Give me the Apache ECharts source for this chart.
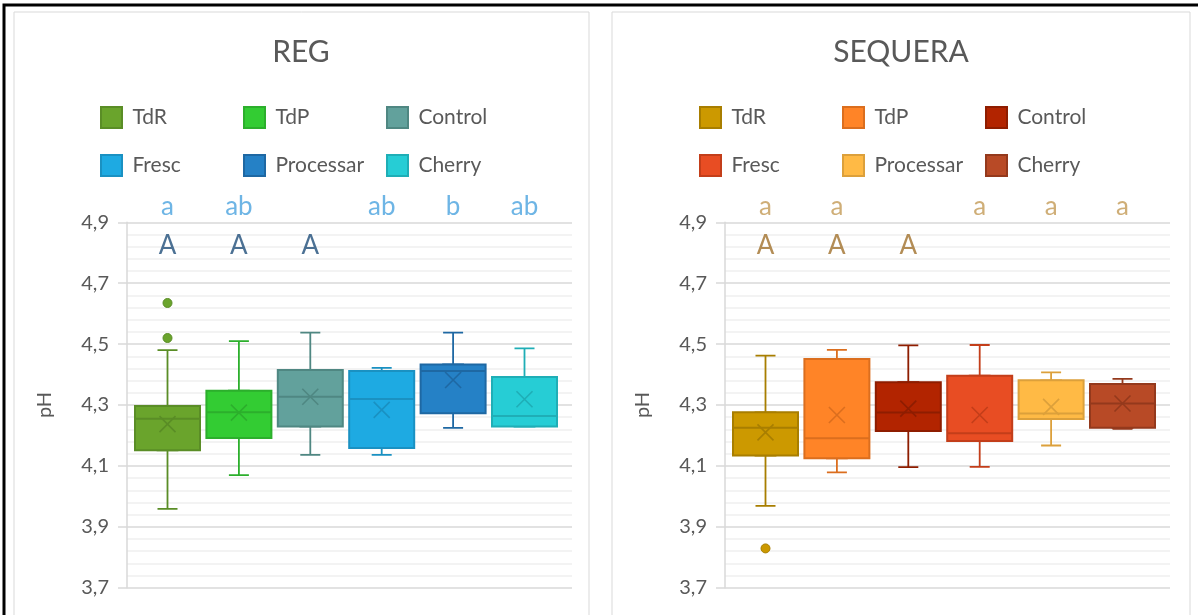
<!DOCTYPE html>
<html>
<head>
<meta charset="utf-8">
<title>pH - REG / SEQUERA</title>
<script src="https://cdn.jsdelivr.net/npm/echarts@6/dist/echarts.min.js"></script>
<style>
    html, body { margin: 0; padding: 0; background: #fff; }
    #chart { width: 1198px; height: 615px; }
</style>
</head>
<body>
<div id="chart"></div>
<script>
// categories (shared by both panels)
const groups = ['TdR', 'TdP', 'Control', 'Fresc', 'Processar', 'Cherry'];

// REG values
const regMin = [3.959, 4.070, 4.136, 4.136, 4.225, 4.229];
const regQ1 = [4.151, 4.192, 4.229, 4.159, 4.273, 4.229];
const regMedian = [4.255, 4.276, 4.327, 4.320, 4.412, 4.264];
const regQ3 = [4.297, 4.347, 4.415, 4.412, 4.433, 4.392];
const regMax = [4.480, 4.510, 4.538, 4.422, 4.538, 4.486];
const regMean = [4.237, 4.275, 4.327, 4.284, 4.382, 4.319];
const regOutliers = [[0, 4.635], [0, 4.520]];
const regLower = ['a', 'ab', '', 'ab', 'b', 'ab'];
const regUpper = ['A', 'A', 'A', '', '', ''];

// SEQUERA values
const seqMin = [3.969, 4.079, 4.096, 4.097, 4.167, 4.222];
const seqQ1 = [4.134, 4.125, 4.215, 4.182, 4.254, 4.225];
const seqMedian = [4.225, 4.191, 4.275, 4.207, 4.272, 4.305];
const seqQ3 = [4.276, 4.451, 4.375, 4.396, 4.381, 4.369];
const seqMax = [4.462, 4.481, 4.496, 4.497, 4.407, 4.386];
const seqMean = [4.210, 4.267, 4.288, 4.267, 4.294, 4.305];
const seqOutliers = [[0, 3.829]];
const seqLower = ['a', 'a', '', 'a', 'a', 'a'];
const seqUpper = ['A', 'A', 'A', '', '', ''];

const FONT = 'Lato';
const GREY = '#595959';

const panels = [
    {
        title: 'REG', cx: 301, axisLeft: 127, boxLeft: 131.8, legendLeft: 100,
        min: regMin, q1: regQ1, median: regMedian, q3: regQ3, max: regMax,
        mean: regMean, outliers: regOutliers, lower: regLower, upper: regUpper,
        fill: ['#6AA42C', '#33CC33', '#62A19C', '#1EAAE2', '#2581C6', '#26CDD5'],
        border: ['#5A8D26', '#2CAF2C', '#4F8782', '#1A91C2', '#1E68A3', '#1FAEB6'],
        lowerColor: '#4AA3DF', upperColor: '#1F4E79'
    },
    {
        title: 'SEQUERA', cx: 901, axisLeft: 725, boxLeft: 729.8, legendLeft: 699,
        min: seqMin, q1: seqQ1, median: seqMedian, q3: seqQ3, max: seqMax,
        mean: seqMean, outliers: seqOutliers, lower: seqLower, upper: seqUpper,
        fill: ['#CC9900', '#FF8427', '#B22400', '#E84D23', '#FFBA45', '#B84A26'],
        border: ['#A87E00', '#DB6E1E', '#8E1D00', '#C33E1A', '#DCA03B', '#94391C'],
        lowerColor: '#C39A55', upperColor: '#A0702C'
    }
];

document.addEventListener('DOMContentLoaded', function() {
    const chart = echarts.init(document.getElementById('chart'));
    chart.setOption(buildOption());
    window.addEventListener('resize', function() {
        chart.resize();
    });
});

function buildOption() {
    const option = {
        animation: false,
        backgroundColor: '#fff',
        textStyle: { fontFamily: FONT },
        grid: [], xAxis: [], yAxis: [], series: [], legend: [],
        graphic: [
            // outer frame and the two chart panels
            { type: 'rect', z: -10, shape: { x: 4, y: 5, width: 1220, height: 700 },
              style: { fill: '#fff', stroke: '#000', lineWidth: 3 } },
            { type: 'rect', z: -9, shape: { x: 14, y: 12, width: 575, height: 700 },
              style: { fill: '#fff', stroke: '#D9D9D9', lineWidth: 1 } },
            { type: 'rect', z: -9, shape: { x: 612, y: 12, width: 578, height: 700 },
              style: { fill: '#fff', stroke: '#D9D9D9', lineWidth: 1 } }
        ]
    };
    panels.forEach(function(p, k) {
        addPanel(option, p, k);
    });
    return option;
}

function addPanel(option, p, k) {
    const ga = k * 2;      // grid with visible y axis
    const gb = k * 2 + 1;  // grid holding the boxes
    const xa = k * 3;
    const ya = k * 2;

    option.graphic.push({
        type: 'text', x: p.cx, y: 52,
        style: { text: p.title, fill: GREY, font: '30px ' + FONT, align: 'center', verticalAlign: 'middle' }
    });

    option.grid.push({ left: p.axisLeft, top: 222.3, width: 445, height: 365.4 });
    option.grid.push({ left: p.boxLeft, top: 222.3, width: 428.4, height: 365.4 });

    option.xAxis.push({ gridIndex: ga, type: 'category', data: [''], show: false });
    option.xAxis.push({ gridIndex: gb, type: 'category', data: groups, show: false });
    option.xAxis.push({ gridIndex: gb, type: 'category', data: groups, show: false, position: 'top' });

    option.yAxis.push({
        gridIndex: ga,
        type: 'value',
        min: 3.7,
        max: 4.9,
        interval: 0.2,
        name: 'pH',
        nameLocation: 'middle',
        nameGap: 72,
        nameTextStyle: { color: GREY, fontSize: 20, fontFamily: FONT },
        axisLine: { show: true, lineStyle: { color: '#D9D9D9', width: 1.5 } },
        axisTick: { show: true, length: 9, lineStyle: { color: '#D9D9D9', width: 1.5 } },
        axisLabel: {
            color: GREY, fontSize: 20, fontFamily: FONT, margin: 18,
            formatter: function(v) { return v.toFixed(1).replace('.', ','); }
        },
        splitLine: { show: true, lineStyle: { color: '#D9D9D9', width: 1.5 } },
        minorTick: { show: false, splitNumber: 5 },
        minorSplitLine: { show: true, lineStyle: { color: '#F0F0F0', width: 1.5 } }
    });
    option.yAxis.push({ gridIndex: gb, type: 'value', min: 3.7, max: 4.9, show: false });

    // whiskers (narrow caps), drawn behind the boxes
    option.series.push({
        type: 'boxplot',
        xAxisIndex: xa + 2,
        yAxisIndex: ya + 1,
        boxWidth: [20, 20],
        z: 1,
        silent: true,
        data: groups.map(function(g, i) {
            return {
                value: [p.min[i], p.q1[i], p.median[i], p.q3[i], p.max[i]],
                itemStyle: { color: p.fill[i], borderColor: p.border[i], borderWidth: 1.8 }
            };
        })
    });

    // boxes
    option.series.push({
        type: 'boxplot',
        xAxisIndex: xa + 1,
        yAxisIndex: ya + 1,
        boxWidth: [65, 65],
        z: 3,
        data: groups.map(function(g, i) {
            return {
                value: [p.q1[i], p.q1[i], p.median[i], p.q3[i], p.q3[i]],
                itemStyle: { color: p.fill[i], borderColor: p.border[i], borderWidth: 2 }
            };
        })
    });

    // outliers
    option.series.push({
        type: 'scatter',
        xAxisIndex: xa + 1,
        yAxisIndex: ya + 1,
        symbolSize: 9,
        z: 4,
        data: p.outliers.map(function(o) {
            return { value: o, itemStyle: { color: p.fill[o[0]], borderColor: p.border[o[0]], borderWidth: 1, opacity: 1 } };
        })
    });

    // mean markers (X)
    option.series.push({
        type: 'scatter',
        xAxisIndex: xa + 1,
        yAxisIndex: ya + 1,
        symbol: 'path://M0,0L10,10M10,0L0,10',
        symbolSize: 16,
        z: 5,
        data: p.mean.map(function(m, i) {
            return { value: [i, m], itemStyle: { color: 'transparent', borderColor: p.border[i], borderWidth: 1.6, opacity: 1 } };
        })
    });

    // significance letters
    option.series.push(letterSeries(p.lower, 4.95, p.lowerColor, xa, ya));
    option.series.push(letterSeries(p.upper, 4.825, p.upperColor, xa, ya));

    // series used only for the legend
    const names = groups.map(function(g) { return p.title + '/' + g; });
    names.forEach(function(n, i) {
        option.series.push({
            type: 'scatter',
            name: n,
            xAxisIndex: xa + 1,
            yAxisIndex: ya + 1,
            data: [],
            itemStyle: { color: p.fill[i], borderColor: p.border[i], borderWidth: 1.5, opacity: 1 }
        });
    });
    // one legend column per pair of names: [TdR, Fresc], [TdP, Processar], [Control, Cherry]
    for (let c = 0; c < 3; c++) {
        option.legend.push(legendColumn([names[c], names[c + 3]], p.legendLeft + c * 143, 106));
    }
}

function letterSeries(letters, y, color, xa, ya) {
    return {
        type: 'scatter',
        xAxisIndex: xa + 1,
        yAxisIndex: ya + 1,
        symbolSize: 1,
        clip: false,
        silent: true,
        z: 6,
        itemStyle: { color: 'transparent' },
        label: {
            show: true, position: 'inside', formatter: '{b}',
            color: color, fontSize: 26, fontFamily: FONT
        },
        data: letters.map(function(t, i) {
            return { name: t, value: [i, y] };
        }).filter(function(d) { return d.name; })
    };
}

function legendColumn(names, left, top) {
    return {
        data: names,
        left: left,
        top: top,
        padding: 0,
        orient: 'vertical',
        icon: 'rect',
        itemWidth: 21,
        itemHeight: 21,
        itemGap: 25,
        selectedMode: false,
        formatter: function(n) { return ' ' + n.split('/')[1]; },
        textStyle: { color: GREY, fontSize: 21, fontFamily: FONT }
    };
}
</script>
</body>
</html>
